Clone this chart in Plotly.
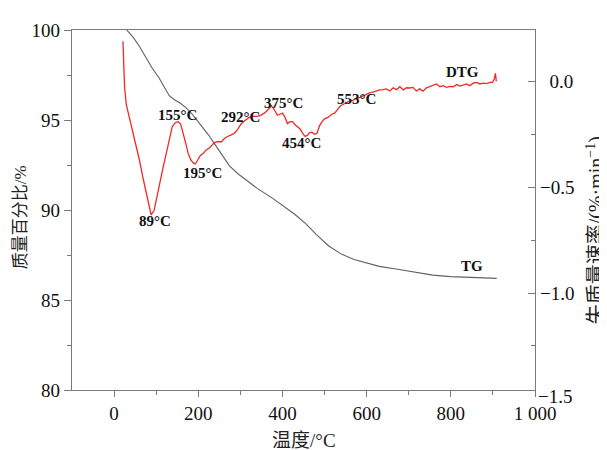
import plotly.graph_objects as go

# TG curve (left axis): temperature (°C) and mass percentage (%)
tg_temp = [30, 45, 60, 75, 90, 107, 120, 131, 145, 155, 170, 186, 200, 210, 225, 238, 255,
           274, 295, 314, 340, 376, 400, 430, 457, 480, 510, 540, 570, 600, 630, 670, 710,
           757, 800, 850, 909]
tg_mass = [100.0, 99.6, 99.1, 98.5, 97.9, 97.33, 96.8, 96.35, 96.1, 95.97, 95.7, 95.32, 94.9,
           94.62, 94.15, 93.7, 93.1, 92.45, 92.0, 91.64, 91.2, 90.66, 90.25, 89.75, 89.2, 88.65,
           88.0, 87.55, 87.25, 87.05, 86.87, 86.72, 86.55, 86.38, 86.3, 86.25, 86.2]

# DTG curve (right axis): temperature (°C) and mass loss rate (%/min)
dtg_temp = [21, 23, 25, 29, 35, 43, 52, 60, 68, 76, 83, 88, 95, 107, 116, 124, 131, 138, 145,
            152, 158, 164, 170, 176, 182, 188, 193, 199, 205, 212, 218, 226, 232, 238, 245, 255,
            262, 269, 276, 286, 294, 302, 311, 321, 330, 340, 348, 357, 365, 374, 381, 388, 394,
            400, 406, 412, 418, 424, 430, 436, 442, 448, 454, 459, 464, 470, 476, 482, 488, 494,
            500, 508, 517, 524, 531, 538, 545, 552, 560, 568, 576, 583, 590, 598, 607, 615, 623,
            631, 639, 647, 655, 663, 671, 679, 687, 695, 702, 710, 718, 726, 734, 742, 750, 758,
            766, 774, 782, 790, 798, 806, 814, 822, 829, 837, 845, 853, 861, 869, 877, 885, 893,
            899, 903, 906, 908]
dtg_rate = [0.19, 0.10, -0.03, -0.11, -0.16, -0.215, -0.29, -0.37, -0.45, -0.52, -0.59, -0.63,
            -0.61, -0.49, -0.41, -0.34, -0.27, -0.215, -0.195, -0.19, -0.20, -0.24, -0.29, -0.34,
            -0.37, -0.385, -0.39, -0.37, -0.35, -0.34, -0.325, -0.315, -0.30, -0.29, -0.285,
            -0.285, -0.27, -0.26, -0.255, -0.245, -0.225, -0.20, -0.185, -0.17, -0.165, -0.165,
            -0.16, -0.15, -0.135, -0.115, -0.135, -0.16, -0.155, -0.15, -0.17, -0.20, -0.19,
            -0.19, -0.205, -0.215, -0.225, -0.245, -0.26, -0.255, -0.243, -0.24, -0.25, -0.245,
            -0.21, -0.19, -0.177, -0.17, -0.155, -0.15, -0.13, -0.115, -0.108, -0.10, -0.092,
            -0.088, -0.08, -0.077, -0.07, -0.06, -0.054, -0.05, -0.045, -0.04, -0.039, -0.035,
            -0.045, -0.03, -0.039, -0.025, -0.04, -0.03, -0.031, -0.028, -0.045, -0.035, -0.046,
            -0.03, -0.025, -0.02, -0.012, -0.025, -0.02, -0.028, -0.023, -0.025, -0.015, -0.022,
            -0.018, -0.012, -0.02, -0.008, -0.005, -0.012, -0.008, -0.01, -0.005, -0.004, 0.01,
            0.038, 0.0]

# Peak labels on the DTG curve
peak_text = ["89°C", "155°C", "195°C", "292°C", "375°C", "454°C", "553°C"]
peak_x = [98, 150, 210, 300, 402, 445, 576]
peak_y = [-0.658, -0.16, -0.432, -0.17, -0.10, -0.293, -0.085]

x_ticks = [0, 200, 400, 600, 800, 1000]
x_ticktext = ["0", "200", "400", "600", "800", "1 000"]
y_ticks = [80, 85, 90, 95, 100]
y2_ticks = [0.0, -0.5, -1.0]
y2_ticktext = ["\u20070.0", "\u22120.5", "\u22121.0"]

SERIF = "Liberation Serif, Times New Roman, serif"
MIX = "Liberation Serif, Noto Sans CJK SC, serif"
AXC = "#7a7a7a"

fig = go.Figure()
fig.add_trace(go.Scatter(x=tg_temp, y=tg_mass, mode="lines", name="TG",
                         line=dict(color="#606060", width=1.1), yaxis="y"))
fig.add_trace(go.Scatter(x=dtg_temp, y=dtg_rate, mode="lines", name="DTG",
                         line=dict(color="#f02828", width=1.3), yaxis="y2"))

annots = []
for t, px, py in zip(peak_text, peak_x, peak_y):
    annots.append(dict(x=px, y=py, xref="x", yref="y2", text="<b>" + t + "</b>", showarrow=False,
                       font=dict(family=SERIF, size=15, color="#111")))
annots.append(dict(x=827, y=0.046, xref="x", yref="y2", text="<b>DTG</b>", showarrow=False,
                   font=dict(family=SERIF, size=15, color="#111")))
annots.append(dict(x=851, y=86.88, xref="x", yref="y", text="<b>TG</b>", showarrow=False,
                   font=dict(family=SERIF, size=15, color="#111")))
# -1.5 label sits just below the plot bottom
annots.append(dict(x=1, y=-0.019, xref="paper", yref="paper", xanchor="left", yanchor="middle",
                   xshift=1, text="\u22121.5", showarrow=False,
                   font=dict(family=SERIF, size=19, color="#111")))
# axis titles
annots.append(dict(x=-0.112, y=0.48, xref="paper", yref="paper", text="质量百分比/%",
                   textangle=-90, showarrow=False, xanchor="center", yanchor="middle",
                   font=dict(family=MIX, size=17, color="#222")))
annots.append(dict(x=1.13, y=0.444, xref="paper", yref="paper",
                   text="失质量速率/(%·min<sup>\u22121</sup>)",
                   textangle=-90, showarrow=False, xanchor="center", yanchor="middle",
                   font=dict(family=MIX, size=20, color="#222")))
annots.append(dict(x=0.5, y=-0.14, xref="paper", yref="paper", text="温度/°C",
                   showarrow=False, xanchor="center", yanchor="middle",
                   font=dict(family=MIX, size=19, color="#222")))

fig.update_layout(
    width=599, height=442,
    margin=dict(l=64, r=71.5, t=13, b=60),
    paper_bgcolor="white", plot_bgcolor="white",
    showlegend=False,
    font=dict(family=SERIF, size=19, color="#111"),
    xaxis=dict(range=[-100, 1000], tickmode="array", tickvals=x_ticks, ticktext=x_ticktext,
               ticks="outside", ticklen=6, tickcolor=AXC, showline=True, linecolor=AXC,
               linewidth=1.3, mirror=True, showgrid=False, zeroline=False,
               minor=dict(tickmode="array", tickvals=[100, 300, 500, 700, 900], ticks="outside",
                          ticklen=4, tickcolor=AXC)),
    yaxis=dict(range=[80, 100], tickmode="array", tickvals=y_ticks, ticks="outside",
               ticklen=7, tickcolor=AXC, showline=True, linecolor=AXC, linewidth=1.3,
               showgrid=False, zeroline=False,
               minor=dict(tickmode="array", tickvals=[82.5, 87.5, 92.5, 97.5], ticks="outside",
                          ticklen=4, tickcolor=AXC)),
    yaxis2=dict(range=[-1.458, 0.243], overlaying="y", side="right", tickmode="array",
                tickvals=y2_ticks, ticktext=y2_ticktext, ticks="inside", ticklen=7,
                tickcolor=AXC, showline=True, linecolor=AXC, linewidth=1.3, showgrid=False,
                zeroline=False, ticklabelstandoff=0,
                minor=dict(tickmode="array", tickvals=[-0.25, -0.75, -1.25], ticks="inside",
                           ticklen=4, tickcolor=AXC)),
    annotations=annots,
)

fig.write_html("out.html")
